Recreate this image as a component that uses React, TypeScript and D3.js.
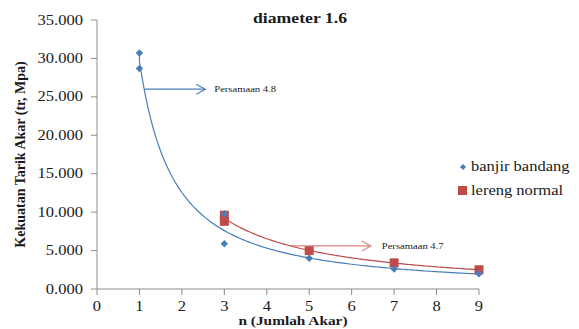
import React from 'react';
import * as d3 from 'd3';

const title = 'diameter 1.6';
const yTicks = [0, 5, 10, 15, 20, 25, 30, 35];
const xTicks = [0, 1, 2, 3, 4, 5, 6, 7, 8, 9];

const banjirX = [1, 1, 3, 3, 5, 7, 9];
const banjirY = [30.7, 28.7, 9.8, 5.9, 4.0, 2.6, 2.0];
const lerengX = [3, 3, 5, 7, 9];
const lerengY = [9.6, 8.8, 5.0, 3.4, 2.5];

const eqBlue = { label: 'Persamaan 4.8', x0: 1.12, x1: 2.55, y: 26.0 };
const eqRed = { label: 'Persamaan 4.7', x0: 4.55, x1: 6.45, y: 5.6 };

const blue = '#4A7EBB';
const red = '#BE4B48';
const serif = '"Liberation Serif", "Times New Roman", serif';
const SX = 1.18; // the picture's text is a bit stretched sideways

// power trendline y = a * x^b, least squares on logs
function powerFit(xs: number[], ys: number[]) {
  const lx = xs.map(Math.log);
  const ly = ys.map(Math.log);
  const mx = d3.mean(lx) as number;
  const my = d3.mean(ly) as number;
  let sxy = 0;
  let sxx = 0;
  lx.forEach((v, i) => {
    sxy += (v - mx) * (ly[i] - my);
    sxx += (v - mx) * (v - mx);
  });
  const b = sxy / sxx;
  const a = Math.exp(my - b * mx);
  return (x: number) => a * Math.pow(x, b);
}

const Txt = ({ x, y, anchor = 'start', size = 14, bold = false, children }: any) => (
  <text
    transform={`translate(${x},${y}) scale(${SX},1)`}
    textAnchor={anchor}
    fontFamily={serif}
    fontWeight={bold ? 'bold' : 'normal'}
    fontSize={size}
    fill="#1a1a1a"
  >
    {children}
  </text>
);

const Arrow = ({ x0, x1, y, color }: { x0: number; x1: number; y: number; color: string }) => (
  <g stroke={color} fill="none" strokeWidth={1.2}>
    <line x1={x0} y1={y} x2={x1} y2={y} />
    <path d={`M${x1 - 9},${y - 5} L${x1},${y} L${x1 - 9},${y + 5}`} />
  </g>
);

const App = () => {
  const width = 579;
  const height = 329;
  const x = d3.scaleLinear().domain([0, 9]).range([97, 479]);
  const y = d3.scaleLinear().domain([0, 35]).range([289, 20]);

  const fitB = powerFit(banjirX, banjirY);
  const fitR = powerFit(lerengX, lerengY);
  const xsB = d3.range(1, 9.001, 0.05);
  const xsR = d3.range(3, 9.001, 0.05);
  const pathB = d3.line<number>().x(d => x(d)).y(d => y(fitB(d)))(xsB);
  const pathR = d3.line<number>().x(d => x(d)).y(d => y(fitR(d)))(xsR);

  const diamond = d3.symbol().type(d3.symbolDiamond2).size(36)();
  const smallDiamond = d3.symbol().type(d3.symbolDiamond2).size(24)();

  return (
    <svg width={width} height={height} style={{ position: 'absolute', left: 0, top: 0, background: '#fff' }}>
      <Txt x={300} y={23} anchor="middle" size={15} bold>
        {title}
      </Txt>

      {/* axes */}
      <g stroke="#8c8c8c" strokeWidth={1}>
        <line x1={x(0)} y1={y(0)} x2={x(0)} y2={y(35)} />
        <line x1={x(0)} y1={y(0)} x2={x(9)} y2={y(0)} />
        {yTicks.map(t => (
          <line key={t} x1={x(0) - 6} x2={x(0)} y1={y(t)} y2={y(t)} />
        ))}
        {xTicks.map(t => (
          <line key={t} x1={x(t)} x2={x(t)} y1={y(0)} y2={y(0) + 6} />
        ))}
      </g>
      {yTicks.map(t => (
        <Txt key={t} x={83} y={y(t) + 4.5} anchor="end" size={14}>
          {d3.format('.3f')(t)}
        </Txt>
      ))}
      {xTicks.map(t => (
        <Txt key={t} x={x(t)} y={y(0) + 22} anchor="middle" size={14}>
          {t}
        </Txt>
      ))}
      <Txt x={293} y={325} anchor="middle" size={13} bold>
        n (Jumlah  Akar)
      </Txt>
      <text
        transform={`translate(25,${y(17.5)}) rotate(-90)`}
        textAnchor="middle"
        fontFamily={serif}
        fontWeight="bold"
        fontSize={14}
        fill="#1a1a1a"
      >
        Kekuatan Tarik Akar (tr, Mpa)
      </text>

      {/* trendlines */}
      <path d={pathB || ''} fill="none" stroke={blue} strokeWidth={1.2} />
      <path d={pathR || ''} fill="none" stroke={red} strokeWidth={1.2} />
      <line x1={x(banjirX[0])} x2={x(banjirX[1])} y1={y(banjirY[0])} y2={y(fitB(1))} stroke={blue} strokeWidth={1.2} />

      {/* markers */}
      {lerengX.map((v, i) => (
        <rect key={i} x={x(v) - 4.5} y={y(lerengY[i]) - 4.5} width={9} height={9} fill={red} />
      ))}
      {banjirX.map((v, i) => (
        <path key={i} d={diamond || ''} transform={`translate(${x(v)},${y(banjirY[i])})`} fill={blue} />
      ))}

      {/* equation callouts */}
      <Arrow x0={x(eqBlue.x0)} x1={x(eqBlue.x1)} y={y(eqBlue.y)} color={blue} />
      <Txt x={x(eqBlue.x1) + 9} y={y(eqBlue.y) + 3} size={9}>
        {eqBlue.label}
      </Txt>
      <Arrow x0={x(eqRed.x0)} x1={x(eqRed.x1)} y={y(eqRed.y)} color={'#D9837F'} />
      <Txt x={x(eqRed.x1) + 11} y={y(eqRed.y) + 3} size={9}>
        {eqRed.label}
      </Txt>

      {/* legend */}
      <path d={smallDiamond || ''} transform="translate(463,167)" fill={blue} />
      <Txt x={471} y={171} size={14}>
        banjir bandang
      </Txt>
      <rect x={458} y={186} width={9} height={9} fill={red} />
      <Txt x={471} y={195} size={14}>
        lereng normal
      </Txt>
    </svg>
  );
};

export default App;
